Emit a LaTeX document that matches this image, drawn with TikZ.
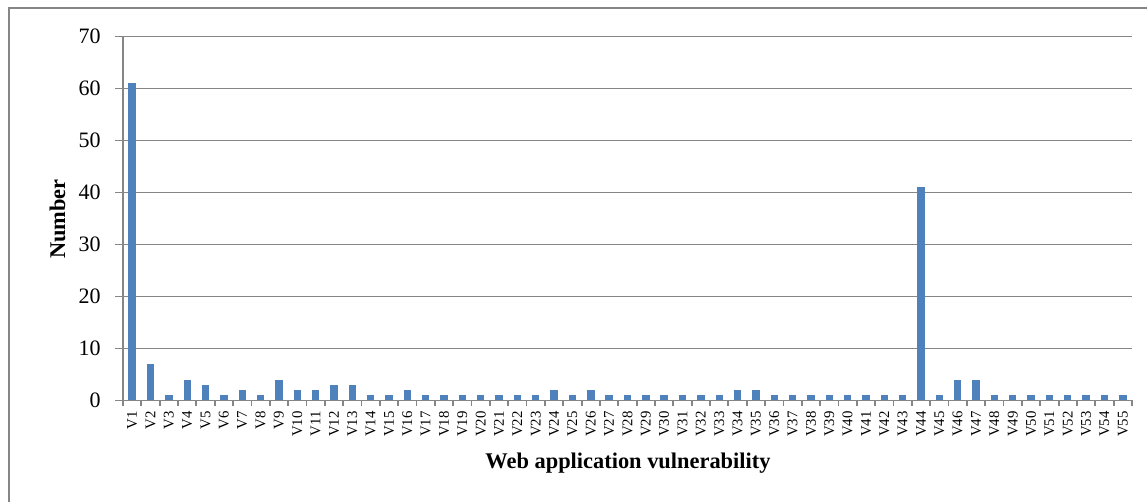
\documentclass[tikz,border=0pt]{standalone}
\usepackage{fontspec}
\setmainfont{Liberation Serif}
\definecolor{barblue}{HTML}{4F81BD}
\definecolor{gridgray}{HTML}{868686}
\begin{document}
\begin{tikzpicture}[x=0.5pt,y=-0.5pt,
  frame/.style={draw=gridgray,line width=0.9pt},
  gridline/.style={draw=gridgray,line width=0.9pt},
  axisline/.style={draw=gridgray,line width=0.9pt},
  bar/.style={fill=barblue,draw=none},
  ticklabel/.style={font=\fontsize{11}{13}\selectfont,anchor=east,inner sep=0pt},
  catlabel/.style={font=\fontsize{7.4}{9}\selectfont,rotate=90,anchor=east,inner sep=0pt},
  axistitle/.style={font=\fontsize{11.2}{13}\selectfont\bfseries,inner sep=0pt}]
\clip (0,0) rectangle (1147,502);
\fill[white] (0,0) rectangle (1147,502);
% chart frame
\draw[frame] (9,8) rectangle (1170,530);
% plot geometry: y = 0 at 400.5, 10 units = 52 px; categories 18.345 px wide from x = 123
\def\yz{400.5}
\def\ys{5.2}
\def\xo{123}
\def\cw{18.345}
% horizontal gridlines and value labels
\foreach \v in {10,20,...,70}{
  \draw[gridline] (115,{\yz-\v*\ys}) -- (1132,{\yz-\v*\ys});
}
\foreach \v in {0,10,...,70}{
  \node[ticklabel] (y\v) at (101,{\yz-\v*\ys}) {\v};
}
% bars
\foreach \v [count=\i] in {61,7,1,4,3,1,2,1,4,2,2,3,3,1,1,2,1,1,1,1,1,1,1,2,1,2,1,1,1,1,1,1,1,2,2,1,1,1,1,1,1,1,1,41,1,4,4,1,1,1,1,1,1,1,1}{
  \fill[bar] ({\xo+(\i-0.5)*\cw-3.7},\yz) rectangle ({\xo+(\i-0.5)*\cw+3.7},{\yz-\v*\ys});
  \node[catlabel] (c\i) at ({\xo+(\i-0.5)*\cw},411) {V\i};
}
% axes and tick marks
\draw[axisline] (\xo,36.5) -- (\xo,\yz);
\draw[axisline] (115,\yz) -- (1132,\yz);
\foreach \i in {0,...,55}{
  \draw[axisline] ({\xo+\i*\cw},\yz) -- ({\xo+\i*\cw},406);
}
\foreach \v in {0,10,...,70}{
  \draw[axisline] (115,{\yz-\v*\ys}) -- (\xo,{\yz-\v*\ys});
}
% axis titles
\node[axistitle,rotate=90,anchor=base] (ytitle) at (65,219) {Number};
\node[axistitle,anchor=base] (xtitle) at (628,468) {Web application vulnerability};
\end{tikzpicture}
\end{document}
